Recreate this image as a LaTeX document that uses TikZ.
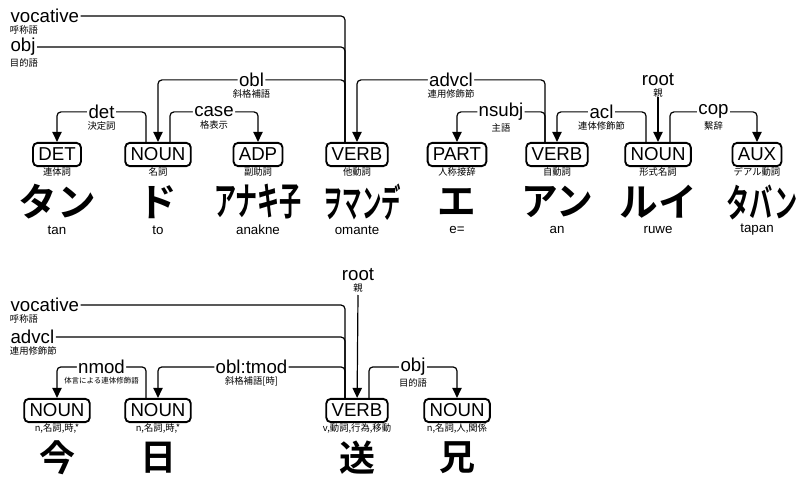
\documentclass[tikz,border=0pt]{standalone}
\usepackage{fontspec}
\setmainfont{Liberation Sans}
\newfontfamily\jpfont{Noto Sans CJK JP}
\newfontfamily\wordfont{Noto Sans CJK JP Bold}
\usetikzlibrary{arrows.meta,positioning,calc}
\newcommand{\squeeze}[2]{\scalebox{#1}[1]{#2}}

\begin{document}
\begin{tikzpicture}[x=0.75pt,y=-0.75pt,>={Triangle[length=7.5pt,width=7pt]},
    upos/.style={draw,line width=1.4pt,rounded corners=3.5pt,inner xsep=4pt,inner ysep=0pt,
                 minimum height=17.5pt,label distance=2pt,font=\fontsize{14}{14}\selectfont},
    gloss/.style={inner sep=0.5pt,font=\jpfont\fontsize{7}{7}\selectfont},
    word/.style={inner sep=0pt,font=\wordfont\fontsize{29}{29}\selectfont},
    roman/.style={inner sep=0pt,font=\fontsize{10}{10}\selectfont},
    arc/.style={line width=.9pt,rounded corners=3pt},
    dep/.style={arc,->},
    rel/.style={fill=white,inner sep=1pt,font=\fontsize{14}{14}\selectfont}]
  \useasboundingbox (0,0) rectangle (799,477);

  % first sentence
  \node[upos,label={[gloss]below:連体詞}] (det1) at (57,154.5) {DET};
  \node[upos,label={[gloss]below:名詞}] (noun1) at (158,154.5) {NOUN};
  \node[upos,label={[gloss]below:副助詞}] (adp1) at (258,154.5) {ADP};
  \node[upos,label={[gloss]below:他動詞}] (verb1) at (357,154.5) {VERB};
  \node[upos,label={[gloss]below:人称接辞}] (part1) at (457,154.5) {PART};
  \node[upos,label={[gloss]below:自動詞}] (verb2) at (557,154.5) {VERB};
  \node[upos,label={[gloss]below:形式名詞}] (noun2) at (658,154.5) {NOUN};
  \node[upos,label={[gloss]below:デアル動詞}] (aux1) at (757,154.5) {AUX};

  \node[word] (det1w) at (57,202) {タン};
  \node[word] (noun1w) at (158,202) {ド};
  \node[word] (adp1w) at (258,202) {\squeeze{.57}{アナキ子}};
  \node[word] (verb1w) at (362,202) {\squeeze{.5}{ヲマンデ}};
  \node[word] (part1w) at (457,202) {エ};
  \node[word] (verb2w) at (557,202) {\squeeze{.95}{アン}};
  \node[word] (noun2w) at (658,202) {ルイ};
  \node[word] (aux1w) at (762,202) {\squeeze{.6}{タバン}};

  \node[roman] (det1r) at (57,230) {tan};
  \node[roman] (noun1r) at (158,230) {to};
  \node[roman] (adp1r) at (258,230) {anakne};
  \node[roman] (verb1r) at (357,230) {omante};
  \node[roman] (part1r) at (457,230) {e=};
  \node[roman] (verb2r) at (557,230) {an};
  \node[roman] (noun2r) at (658,230) {ruwe};
  \node[roman] (aux1r) at (757,230) {tapan};

  \node[rel,anchor=west,label={[gloss,anchor=north west]south west:呼称語}] (voc1) at (9,16) {vocative};
  \node[rel,anchor=west,label={[gloss,anchor=north west]south west:目的語}] (obj1) at (9,47) {obj};
  \node[rel,label={[gloss]below:親}] (root1) at (658,80) {root};

  \draw[arc] ([xshift=-9pt]verb1.north) |- (voc1);
  \draw[arc] ([xshift=-9pt]verb1.north) |- (obj1);
  \draw[dep] ([xshift=-9pt]verb1.north) |- node[pos=.75,rel,label={[gloss]below:斜格補語}] {obl} ($(noun1.north)+(0,-62)$) -- (noun1);
  \draw[dep] ([xshift=-9pt]noun1.north) |- node[pos=.75,rel,label={[gloss]below:決定詞}] {det} ($(det1.north)+(0,-30)$) -- (det1);
  \draw[dep] ([xshift=9pt]noun1.north) |- node[pos=.75,rel,label={[gloss]below:格表示}] {case} ($(adp1.north)+(0,-30)$) -- (adp1);
  \draw[dep] ([xshift=-9pt]verb2.north) |- node[pos=.75,rel,label={[gloss]below:連用修飾節}] {advcl} ($(verb1.north)+(0,-62)$) -- (verb1);
  \draw[dep] ([xshift=-9pt]verb2.north) |- node[pos=.75,rel,label={[gloss]below:主語}] {nsubj} ($(part1.north)+(0,-30)$) -- (part1);
  \draw[dep] ([xshift=-9pt]noun2.north) |- node[pos=.75,rel,label={[gloss]below:連体修飾節}] {acl} ($(verb2.north)+(0,-30)$) -- (verb2);
  \draw[dep] ([xshift=9pt]noun2.north) |- node[pos=.75,rel,label={[gloss]below:繫辞}] {cop} ($(aux1.north)+(0,-30)$) -- (aux1);
  \draw[dep] (root1.south |- 0,97) -- (noun2);

  % second sentence
  \node[upos,label={[gloss]below:{n,名詞,時,*}}] (noun3) at (57,410.5) {NOUN};
  \node[upos,label={[gloss]below:{n,名詞,時,*}}] (noun4) at (158,410.5) {NOUN};
  \node[upos,label={[gloss]below:{v,動詞,行為,移動}}] (verb3) at (357,410.5) {VERB};
  \node[upos,label={[gloss]below:{n,名詞,人,関係}}] (noun5) at (457,410.5) {NOUN};

  \node[word,font=\wordfont\fontsize{27}{27}\selectfont] (noun3w) at (57,458) {今};
  \node[word,font=\wordfont\fontsize{27}{27}\selectfont] (noun4w) at (158,458) {日};
  \node[word,font=\wordfont\fontsize{27}{27}\selectfont] (verb3w) at (357,458) {送};
  \node[word,font=\wordfont\fontsize{27}{27}\selectfont] (noun5w) at (457,458) {兄};

  \node[rel,anchor=west,label={[gloss,anchor=north west]south west:呼称語}] (voc2) at (9,305) {vocative};
  \node[rel,anchor=west,label={[gloss,anchor=north west]south west:連用修飾節}] (advcl2) at (9,337) {advcl};
  \node[rel,label={[gloss]below:親}] (root2) at (358,275) {root};

  \draw[arc] ([xshift=-9pt]verb3.north) |- (voc2);
  \draw[arc] ([xshift=-9pt]verb3.north) |- (advcl2);
  \draw[dep] ([xshift=-9pt]verb3.north) |- node[pos=.75,rel,label={[gloss]below:斜格補語[時]}] {obl:tmod} ($(noun4.north)+(0,-31)$) -- (noun4);
  \draw[dep] ([xshift=-9pt]noun4.north) |- node[pos=.75,rel,label={[gloss,font=\jpfont\fontsize{5.6}{5.6}\selectfont]below:体言による連体修飾語}] {nmod} ($(noun3.north)+(0,-31)$) -- (noun3);
  \draw[dep] ([xshift=9pt]verb3.north) |- node[pos=.75,rel,label={[gloss]below:目的語}] {obj} ($(noun5.north)+(0,-31)$) -- (noun5);
  \draw[dep] (root2.south |- 0,295) -- (verb3);
\end{tikzpicture}
\end{document}
